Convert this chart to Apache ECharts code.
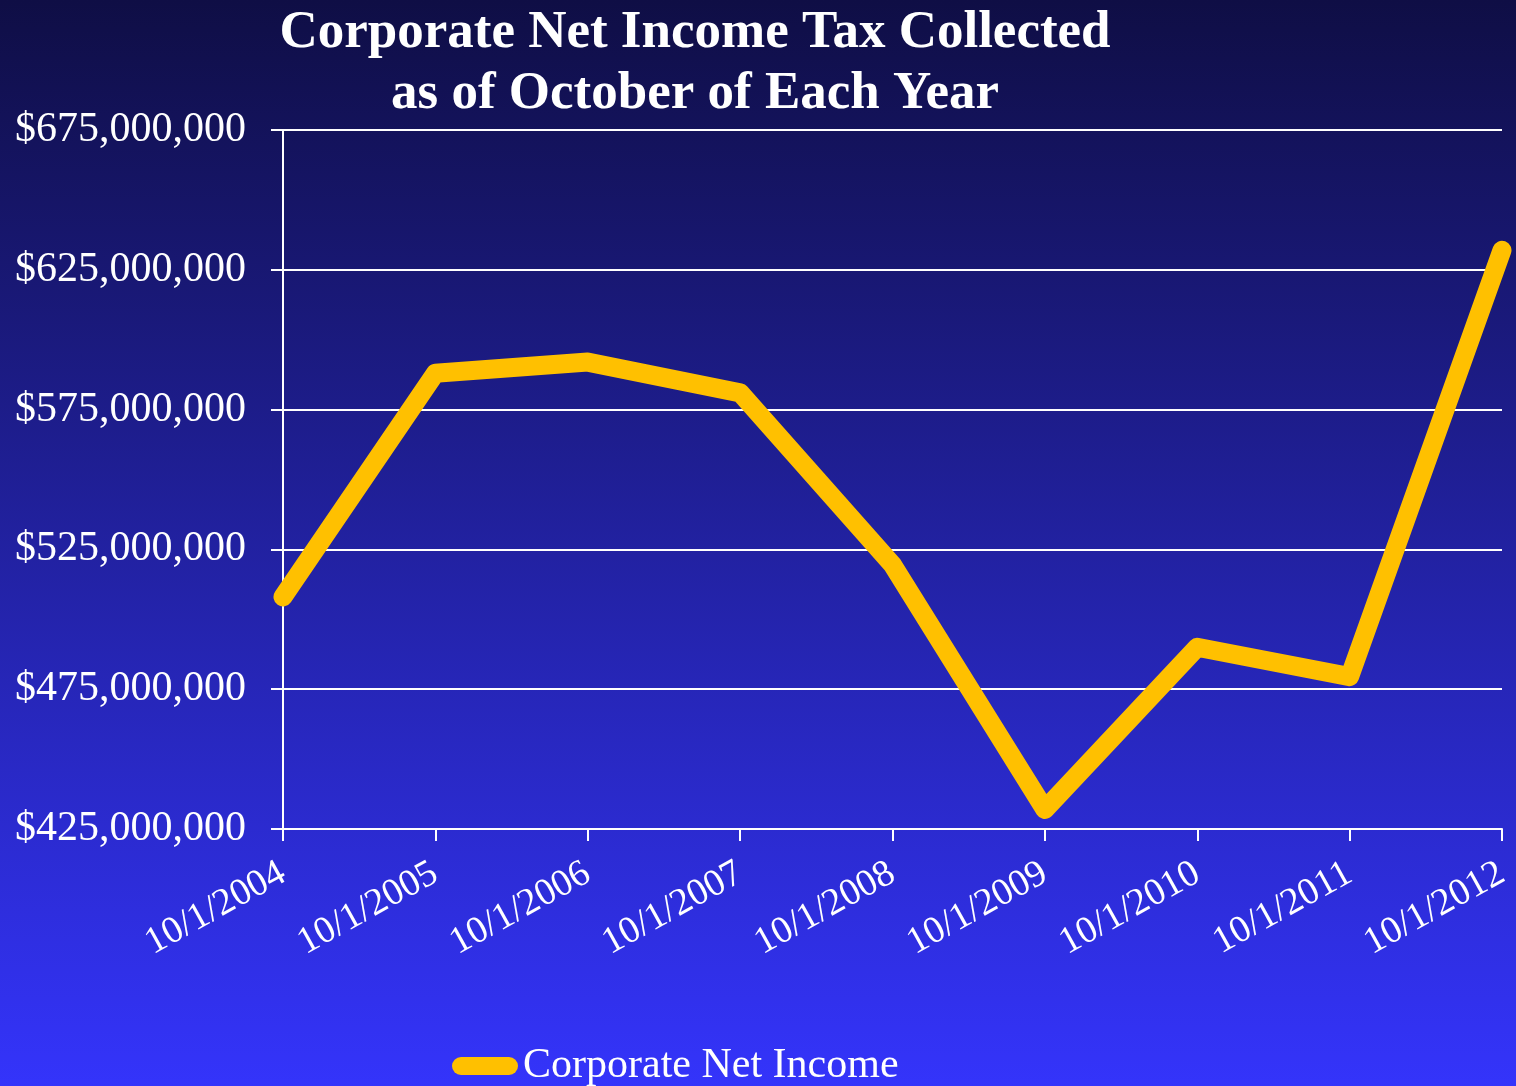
<!DOCTYPE html>
<html>
<head>
<meta charset="utf-8">
<script src="https://cdn.jsdelivr.net/npm/echarts@6/dist/echarts.min.js"></script>
<style>
  html, body { margin: 0; padding: 0; }
  #chart { width: 1516px; height: 1086px; }
</style>
</head>
<body>
<div id="chart"></div>
<script>
const categories = ['10/1/2004', '10/1/2005', '10/1/2006', '10/1/2007', '10/1/2008', '10/1/2009', '10/1/2010', '10/1/2011', '10/1/2012']
const netIncome = [508000000, 588000000, 592000000, 581000000, 519500000, 432000000, 490000000, 479500000, 632000000]
const yMin = 425000000
const yMax = 675000000
const yStep = 50000000

const chart = echarts.init(document.getElementById('chart'))
const serif = '"Liberation Serif", "Times New Roman", serif'
const yellow = '#ffc000'

const option = {
  backgroundColor: {
    type: 'linear', x: 0, y: 0, x2: 0, y2: 1,
    colorStops: [
      { offset: 0, color: '#0f0e45' },
      { offset: 1, color: '#3434fb' }
    ]
  },
  graphic: [
    {
      type: 'text',
      x: 695,
      y: 3,
      style: {
        text: 'Corporate Net Income Tax Collected\nas of October of Each Year',
        align: 'center',
        verticalAlign: 'top',
        fill: '#ffffff',
        font: 'bold 53px ' + serif,
        lineHeight: 61
      }
    }
  ],
  legend: {
    left: 447,
    top: 1040,
    itemWidth: 66,
    itemHeight: 18,
    itemGap: 2,
    icon: 'path://M9,0 H57 A9,9 0 0 1 57,18 H9 A9,9 0 0 1 9,0 Z',
    textStyle: { color: '#ffffff', fontFamily: serif, fontSize: 42 },
    data: ['Corporate Net Income']
  },
  grid: {
    left: 283,
    right: 14,
    top: 130,
    bottom: 257,
    containLabel: false
  },
  xAxis: {
    type: 'category',
    boundaryGap: false,
    data: categories,
    axisLine: { lineStyle: { color: '#ffffff', width: 2 } },
    axisTick: { show: true, length: 12, lineStyle: { color: '#ffffff', width: 2 } },
    axisLabel: {
      interval: 0,
      rotate: 29,
      margin: 42,
      color: '#ffffff',
      fontFamily: serif,
      fontSize: 38
    }
  },
  yAxis: {
    type: 'value',
    min: yMin,
    max: yMax,
    interval: yStep,
    axisLine: { show: true, lineStyle: { color: '#ffffff', width: 2 } },
    axisTick: { show: true, length: 12, lineStyle: { color: '#ffffff', width: 2 } },
    splitLine: { lineStyle: { color: '#ffffff', width: 2 } },
    axisLabel: {
      margin: 37,
      color: '#ffffff',
      fontFamily: serif,
      fontSize: 42,
      formatter: v => '$' + v.toLocaleString('en-US')
    }
  },
  series: [
    {
      name: 'Corporate Net Income',
      type: 'line',
      data: netIncome,
      symbol: 'none',
      color: yellow,
      lineStyle: { color: yellow, width: 19, join: 'round', cap: 'round' },
      animation: false
    }
  ]
}
chart.setOption(option)
</script>
</body>
</html>
